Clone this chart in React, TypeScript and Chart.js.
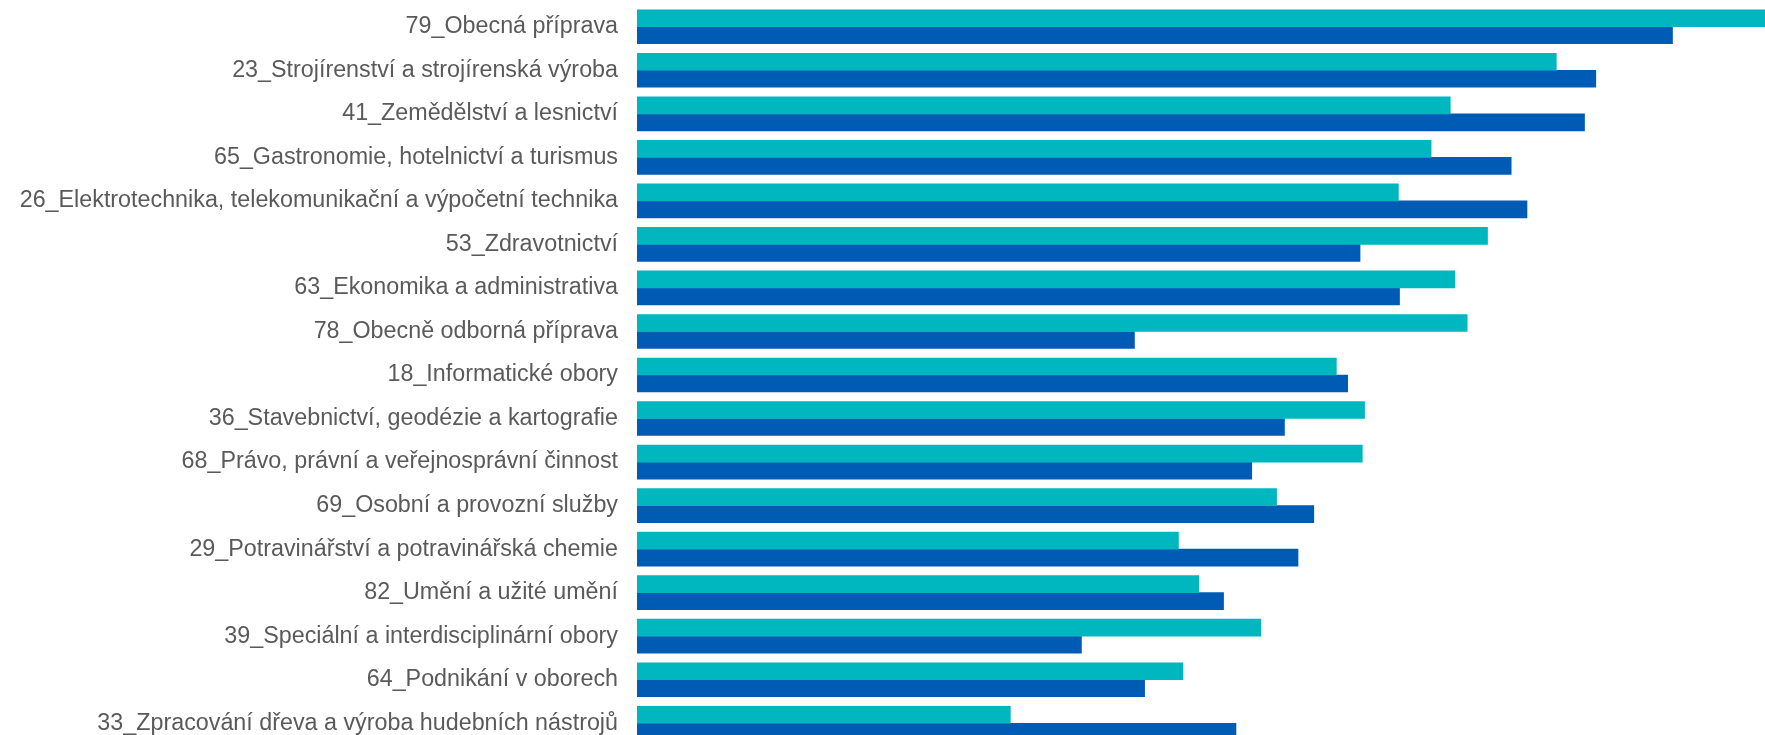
import React, { useEffect, useRef } from "react";
import { Chart, registerables } from "chart.js";

Chart.register(...registerables);

const categories = [
  "79_Obecná příprava",
  "23_Strojírenství a strojírenská výroba",
  "41_Zemědělství a lesnictví",
  "65_Gastronomie, hotelnictví a turismus",
  "26_Elektrotechnika, telekomunikační a výpočetní technika",
  "53_Zdravotnictví",
  "63_Ekonomika a administrativa",
  "78_Obecně odborná příprava",
  "18_Informatické obory",
  "36_Stavebnictví, geodézie a kartografie",
  "68_Právo, právní a veřejnosprávní činnost",
  "69_Osobní a provozní služby",
  "29_Potravinářství a potravinářská chemie",
  "82_Umění a užité umění",
  "39_Speciální a interdisciplinární obory",
  "64_Podnikání v oborech",
  "33_Zpracování dřeva a výroba hudebních nástrojů",
];

const seriesA = [100, 81.5, 72.1, 70.4, 67.5, 75.4, 72.5, 73.6, 62.0, 64.5, 64.3, 56.7, 48.0, 49.8, 55.3, 48.4, 33.1];
const seriesB = [91.8, 85.0, 84.0, 77.5, 78.9, 64.1, 67.6, 44.1, 63.0, 57.4, 54.5, 60.0, 58.6, 52.0, 39.4, 45.0, 53.1];

export default function App() {
  const ref = useRef<HTMLCanvasElement | null>(null);
  useEffect(() => {
    if (!ref.current) return;
    const chart = new Chart(ref.current, {
      type: "bar",
      data: {
        labels: categories,
        datasets: [
          { label: "A", data: seriesA, backgroundColor: "#00B7BF", barThickness: 17 },
          { label: "B", data: seriesB, backgroundColor: "#005BB4", barThickness: 17 },
        ],
      },
      options: {
        indexAxis: "y",
        animation: false,
        responsive: false,
        layout: { padding: { top: 5, right: 0, bottom: 0, left: 0 } },
        plugins: { legend: { display: false }, tooltip: { enabled: false } },
        scales: {
          x: { display: false, min: 0, max: 100 },
          y: {
            grid: { display: false, drawTicks: false },
            border: { display: false },
            ticks: {
              padding: 19,
              color: "#5a5a5a",
              font: { family: "'Liberation Sans', Arial, sans-serif", size: 23.3 },
            },
            afterFit: (scale: any) => {
              scale.width = 637;
              scale.paddingTop = 0;
              scale.paddingBottom = 0;
            },
          },
        },
      },
    });
    return () => chart.destroy();
  }, []);
  return (
    <div style={{ position: "absolute", left: 0, top: 0, width: 1765, height: 735, overflow: "hidden", background: "#fff" }}>
      <canvas ref={ref} width={1765} height={745} style={{ display: "block" }} />
    </div>
  );
}
